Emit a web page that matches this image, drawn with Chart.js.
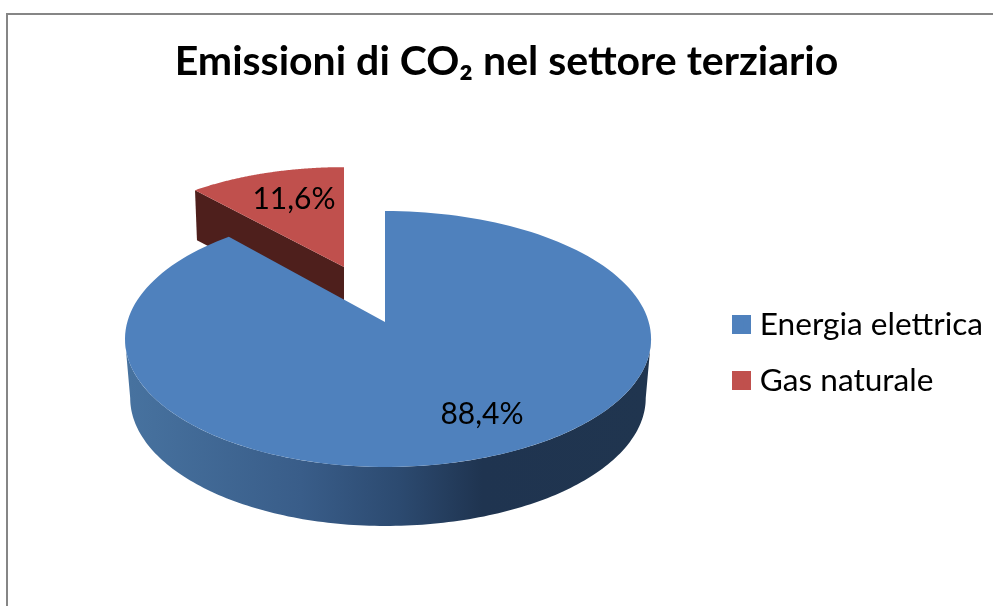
<!DOCTYPE html>
<html lang="it">
<head>
<meta charset="utf-8">
<style>html,body{margin:0;padding:0;background:#fff}canvas{display:block}</style>
<script src="https://cdn.jsdelivr.net/npm/chart.js@4/dist/chart.umd.min.js"></script>
</head>
<body>
<canvas id="c" width="993" height="606"></canvas>
<script>
const categories = ["Energia elettrica", "Gas naturale"];
const shares = [88.4, 11.6];
const sliceColors = ["#4f81bd", "#c0504d"];
const titleText = "Emissioni di CO₂ nel settore terziario";

// Projective view of the flat pie, one per slice (the red slice is pulled out).
const view = [
  {cx:385, cy:322, sx:1, sy:1, depth:59, lowerScale:0.98, label:[97,92]},
  {cx:344, cy:267, sx:0.954, sy:0.90, depth:50, lowerScale:0.987, label:[-50,-68]}
];
const K = 0.1328, AL = 257.7, AR = 263.7, B = 125.7;

function project(theta, s, lower) {
  const u = Math.sin(theta), v = -Math.cos(theta), w = 1 - K*v;
  const a = u < 0 ? AL : AR;
  const sc = lower ? s.lowerScale : 1;
  return [s.cx + s.sx*sc*a*u/w, s.cy + (lower ? s.depth : 0) + s.sy*B*v/w];
}
function apex(s, lower) { return [s.cx, s.cy + (lower ? s.depth : 0)]; }

const LEGEND_BOX = 19;
const pie3d = {
  id: "pie3d",
  beforeInit(chart) {
    chart.ctx.textRendering = "optimizeSpeed"; // no tt ligature
  },
  beforeDraw(chart) {
    const c = chart.ctx;
    c.save();
    c.fillStyle = "#fff";
    c.fillRect(0,0,chart.width,chart.height);
    c.strokeStyle = "#868686";
    c.lineWidth = 2;
    c.beginPath();
    c.moveTo(7, chart.height);
    c.lineTo(7, 14);
    c.lineTo(chart.width, 14);
    c.stroke();
    c.restore();
  },
  afterLayout(chart) {
    const lg = chart.legend;
    const l = lg.options.labels;
    lg.left = 732 - l.padding;
    lg.top = 315 - (l.font.size - l.boxHeight)/2 - l.padding;
  },
  afterDraw(chart) {
    // widen the legend swatches; Chart.js ties text offset to the swatch width
    const lg = chart.legend, l = lg.options.labels, c = chart.ctx;
    c.save();
    lg.legendHitBoxes.forEach((h,i) => {
      c.fillStyle = sliceColors[i];
      const y = 315 + i*(l.font.size + l.padding);
      c.fillRect(h.left + l.boxWidth - 0.5, y, LEGEND_BOX - l.boxWidth + 0.5, l.boxHeight);
    });
    c.restore();
  },
  beforeDatasetDraw(chart) {
    const c = chart.ctx;
    const arcs = chart.getDatasetMeta(0).data;
    const th = a => a + Math.PI/2;
    const poly = (pts) => {
      c.beginPath();
      pts.forEach((p,i) => i ? c.lineTo(p[0],p[1]) : c.moveTo(p[0],p[1]));
      c.closePath();
    };
    const sweep = (from,to,s,lower) => {
      const pts = [], n = 160;
      for (let i=0;i<=n;i++) pts.push(project(from+(to-from)*i/n, s, lower));
      return pts;
    };
    c.save();
    // red slice: cut face, then top
    {
      const e = arcs[1], s = view[1], a0 = th(e.startAngle), a1 = th(e.endAngle);
      c.fillStyle = "#4e1f1c";
      poly([project(a0,s,false), apex(s,false), apex(s,true), project(a0,s,true)]);
      c.fill();
      c.fillStyle = sliceColors[1];
      poly([apex(s,false), ...sweep(a0,a1,s,false)]);
      c.fill();
    }
    // blue slice: rim, then top
    {
      const e = arcs[0], s = view[0], a0 = th(e.startAngle), a1 = th(e.endAngle);
      const g = c.createLinearGradient(130,0,648,0);
      g.addColorStop(0,"#47729f"); g.addColorStop(0.33,"#395d89");
      g.addColorStop(0.52,"#2c4a70"); g.addColorStop(0.68,"#1f3450"); g.addColorStop(1,"#20354f");
      c.fillStyle = g;
      const edge = Math.acos(-K);
      const r0 = edge, r1 = 2*Math.PI - edge;
      poly([...sweep(r0,r1,s,false), ...sweep(r1,r0,s,true)]);
      c.fill();
      c.fillStyle = sliceColors[0];
      poly([apex(s,false), ...sweep(a0,a1,s,false)]);
      c.fill();
    }
    // value labels
    c.fillStyle = "#000";
    c.font = "30px Lato";
    c.textAlign = "center";
    c.textBaseline = "middle";
    shares.forEach((v,i) => {
      c.fillText(v.toFixed(1).replace(".",",") + "%", view[i].cx + view[i].label[0], view[i].cy + view[i].label[1]);
    });
    c.restore();
    return false;
  }
};

new Chart(document.getElementById("c"), {
  type: "pie",
  data: { labels: categories, datasets: [{ data: shares, backgroundColor: sliceColors, borderWidth: 0 }] },
  plugins: [pie3d],
  options: {
    responsive: false,
    animation: false,
    events: [],
    rotation: 0,
    layout: { padding: { left: 20 } },
    plugins: {
      tooltip: { enabled: false },
      title: { display: true, text: titleText, color: "#000",
        font: { family: "Lato", size: 41, weight: "bold" }, padding: { top: 37, bottom: 10 } },
      legend: { position: "right", align: "start",
        labels: { color: "#000", boxWidth: 12, boxHeight: 19, padding: 24.4,
          font: { family: "Lato", size: 31.6 } } }
    }
  }
});
</script>
</body>
</html>
